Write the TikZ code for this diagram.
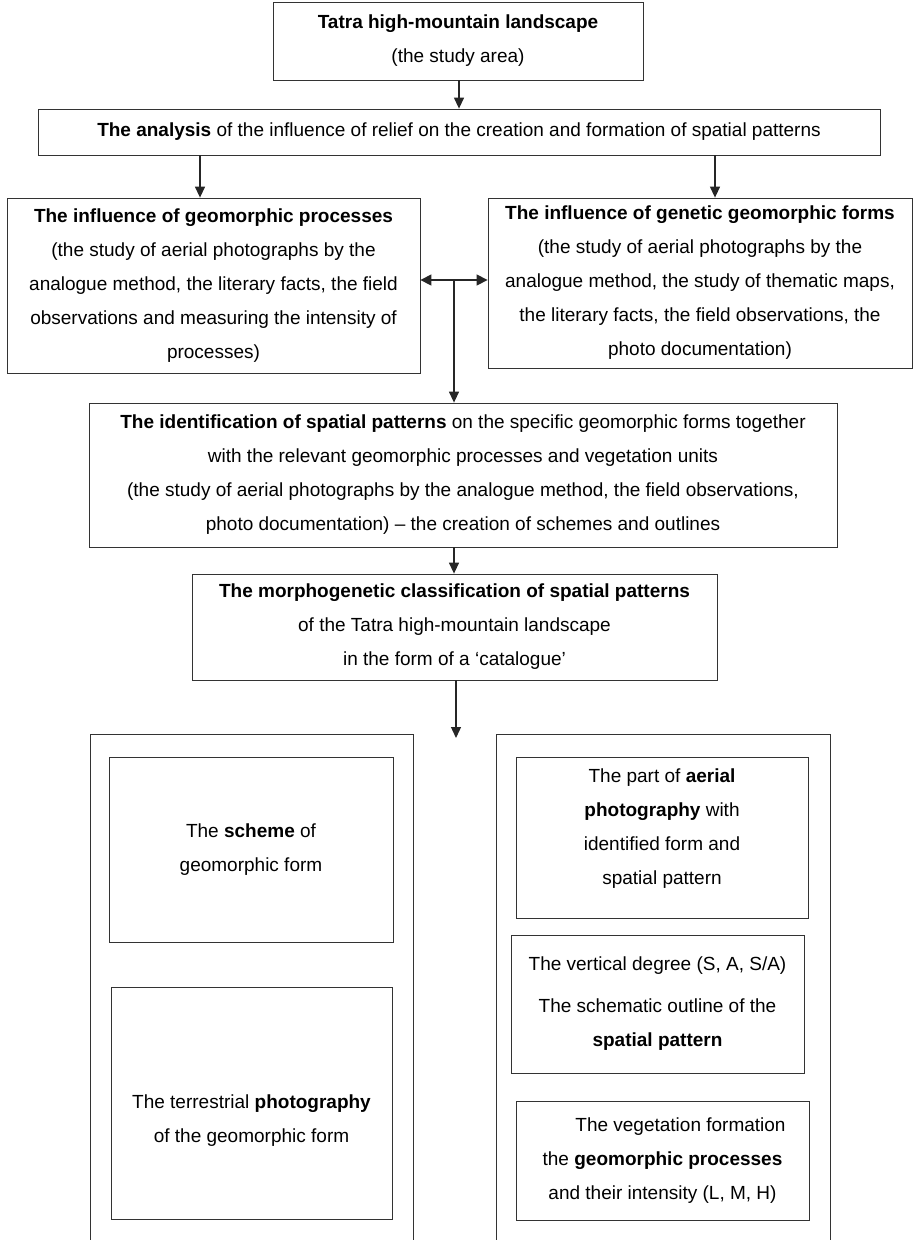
\documentclass[tikz,border=0pt]{standalone}
\usepackage{fontspec}
\setmainfont{Liberation Sans}
\usetikzlibrary{arrows.meta}
\tikzset{fbox/.style={draw,black!80,line width=.8pt,text=black,align=center,inner sep=0pt,font=\fontsize{19}{34}\selectfont}}
\tikzset{farrow/.style={draw,black!85,line width=1.3pt,-{Triangle[length=11pt,width=10pt]}}}
\tikzset{fboth/.style={draw,black!85,line width=1.3pt,{Triangle[length=11pt,width=11pt]}-{Triangle[length=11pt,width=11pt]}}}
\tikzset{fframe/.style={draw,black!80,line width=.8pt}}

\begin{document}
\begin{tikzpicture}[x=1pt,y=-1pt]
    \useasboundingbox (0,0) rectangle (919,1240);

    % upper part of the scheme
    \node[fbox,minimum width=370pt,minimum height=78pt] (area) at (458,41)
      {\textbf{Tatra high-mountain landscape}\\(the study area)};
    \node[fbox,minimum width=842pt,minimum height=46pt] (analysis) at (459,132)
      {\textbf{The analysis} of the influence of relief on the creation and formation of spatial patterns};
    \node[fbox,minimum width=413pt,minimum height=175pt] (procs) at (213.5,285.5)
      {\textbf{The influence of geomorphic processes}\\(the study of aerial photographs by the\\analogue method, the literary facts, the field\\observations and measuring the intensity of\\processes)};
    \node[fbox,minimum width=424pt,minimum height=170pt] (forms) at (700,283)
      {\textbf{The influence of genetic geomorphic forms}\\(the study of aerial photographs by the\\analogue method, the study of thematic maps,\\the literary facts, the field observations, the\\photo documentation)};
    \node[fbox,minimum width=748pt,minimum height=144pt] (ident) at (463,475)
      {\textbf{The identification of spatial patterns} on the specific geomorphic forms together\\with the relevant geomorphic processes and vegetation units\\(the study of aerial photographs by the analogue method, the field observations,\\photo documentation) -- the creation of schemes and outlines};
    \node[fbox,minimum width=525pt,minimum height=106pt] (classif) at (454.5,627)
      {\textbf{The morphogenetic classification of spatial patterns}\\of the Tatra high-mountain landscape\\in the form of a `catalogue'};

    % the catalogue sheet
    \draw[fframe] (90,1240) |- (413,734) -- (413,1240);
    \draw[fframe] (496,1240) |- (830,734) -- (830,1240);
    \node[fbox,minimum width=284pt,minimum height=185pt] (scheme) at (251,849.5)
      {The \textbf{scheme} of\\geomorphic form};
    \node[fbox,minimum width=281pt,minimum height=232pt] (photo) at (251.5,1103)
      {\mbox{}\\[14pt]The terrestrial \textbf{photography}\\of the geomorphic form};
    \node[fbox,minimum width=292pt,minimum height=161pt] (aerial) at (662,837.5)
      {The part of \textbf{aerial}\\\textbf{photography} with\\identified form and\\spatial pattern\\[-12pt]\mbox{}};
    \node[fbox,minimum width=293pt,minimum height=138pt] (degree) at (657.5,1004)
      {The vertical degree (S, A, S/A)\\[8pt]The schematic outline of the\\\textbf{spatial pattern}};
    \node[fbox,minimum width=293pt,minimum height=119pt] (veget) at (662.5,1160.5)
      {\hspace*{36pt}The vegetation formation\\the \textbf{geomorphic processes}\\and their intensity (L, M, H)};

    % connectors
    \coordinate (xl) at (200,0);
    \coordinate (xr) at (715,0);
    \coordinate (jn) at (454,280);
    \coordinate (catend) at (456,738);
    \draw[farrow] (area.south -| analysis.north) -- (analysis.north);
    \draw[farrow] (analysis.south -| xl) -- (procs.north -| xl);
    \draw[farrow] (analysis.south -| xr) -- (forms.north -| xr);
    \draw[fboth] (procs.east |- jn) -- (forms.west |- jn);
    \draw[farrow] (jn) -- (jn |- ident.north);
    \draw[farrow] (ident.south -| jn) -- (jn |- classif.north);
    \draw[farrow] (classif.south -| catend) -- (catend);

\end{tikzpicture}
\end{document}
